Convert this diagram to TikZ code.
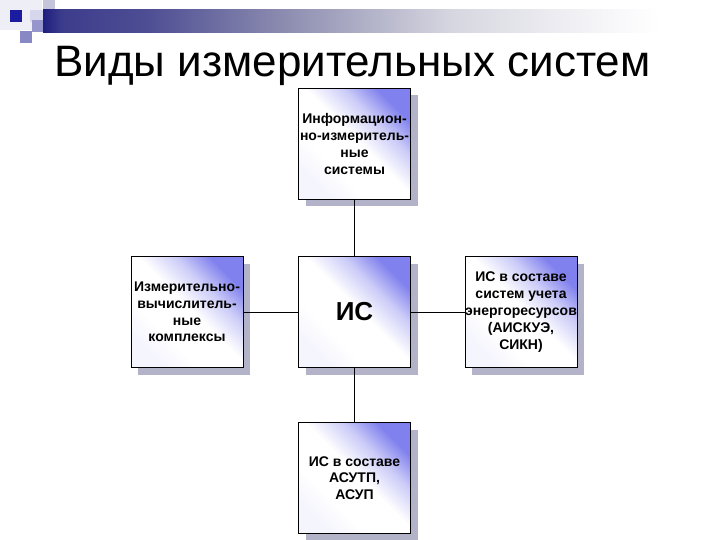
\documentclass[tikz,border=0pt]{standalone}
\usepackage{fontspec}
\setmainfont{Liberation Sans}
\usetikzlibrary{shadows}
\definecolor{lav}{RGB}{128,128,238}
\definecolor{shd}{RGB}{178,178,200}
\definecolor{navy}{RGB}{30,30,128}
\definecolor{bA}{RGB}{60,60,140}
\definecolor{bB}{RGB}{78,78,148}
\definecolor{bC}{RGB}{140,140,176}
\definecolor{bD}{RGB}{214,214,224}
\definecolor{bE}{RGB}{245,245,248}
\definecolor{sqdark}{RGB}{28,28,160}
\definecolor{sqpale}{RGB}{214,214,236}
\definecolor{sqgray}{RGB}{196,196,218}
\definecolor{sqmid}{RGB}{150,150,204}
\definecolor{sqmidb}{RGB}{136,136,196}
\definecolor{bgpale}{RGB}{238,238,246}
\pgfdeclareverticalshading{boxshade}{100bp}{color(0bp)=(lav!8); color(25bp)=(lav!8); color(36bp)=(white); color(52bp)=(white); color(64bp)=(lav!40); color(75bp)=(lav); color(100bp)=(lav)}
\pgfdeclarehorizontalshading{barshade}{100bp}{color(0bp)=(navy); color(25bp)=(navy); color(26.5bp)=(bA); color(33.5bp)=(bB); color(44.5bp)=(bC); color(58bp)=(bD); color(70bp)=(bE); color(75bp)=(white); color(100bp)=(white)}
\tikzset{
  ibox/.style={draw=black, line width=0.8pt, shading=boxshade, shading angle=-45,
    minimum width=112pt, minimum height=111pt, inner sep=0pt, align=center,
    font=\fontsize{14}{16.8}\selectfont\bfseries,
    drop shadow={shadow xshift=7pt, shadow yshift=-7pt, fill=shd, opacity=1}},
  conn/.style={draw=black, line width=1pt}
}
\begin{document}
\begin{tikzpicture}[x=1pt,y=-1pt]
\useasboundingbox (0,0) rectangle (720,540);
\fill[white] (0,0) rectangle (720,540);
% corner decoration
\fill[bgpale] (0,0) rectangle (42,30);
\fill[sqgray] (43,0) rectangle (55,10);
\fill[sqpale] (30,10) rectangle (55,22);
\fill[sqdark] (10,10) rectangle (22,22);
\fill[sqmid] (32,20) rectangle (43,32);
\fill[sqmidb] (20,31) rectangle (32,43);
\shade[shading=barshade] (43,10) rectangle (660,33);
% title
\node[anchor=base west, inner sep=0pt, font=\fontsize{44}{50}\selectfont] (title) at (54,77) {Виды измерительных систем};
% boxes
\node[ibox] (top) at (354.5,144) {Информацион-\\но-измеритель-\\ные\\системы};
\node[ibox] (left) at (187,312) {Измерительно-\\вычислитель-\\ные\\комплексы};
\node[ibox] (mid) at (354.5,312) {\fontsize{26}{30}\selectfont ИС};
\node[ibox] (right) at (521,312) {ИС в составе\\систем учета\\энергоресурсов\\(АИСКУЭ,\\СИКН)};
\node[ibox] (bot) at (354.5,478) {ИС в составе\\АСУТП,\\АСУП};
% connectors
\draw[conn] (top.south) -- (mid.north);
\draw[conn] (left.east) -- (mid.west);
\draw[conn] (mid.east) -- (right.west);
\draw[conn] (mid.south) -- (bot.north);
\end{tikzpicture}
\end{document}
